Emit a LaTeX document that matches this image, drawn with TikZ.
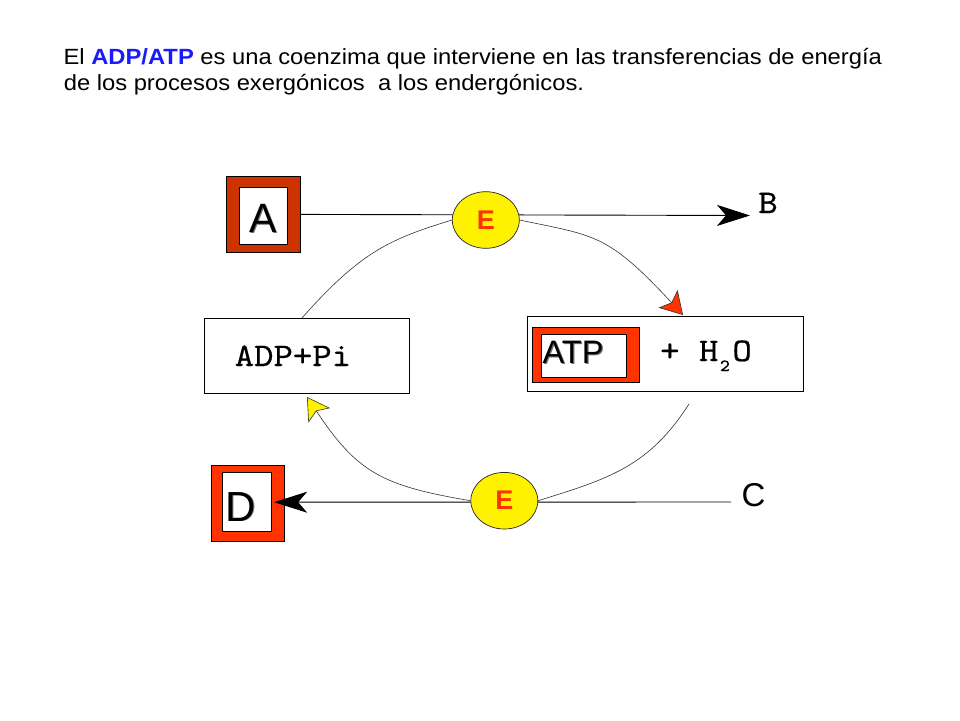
\documentclass[tikz,border=0pt]{standalone}
\usepackage{fontspec}
\setmainfont{Liberation Sans}
\newfontfamily\ttlfont[FakeStretch=1.08]{Liberation Sans}
\newfontfamily\cour[FakeStretch=1.12,FakeBold=0.6]{lmmono10-regular.otf}
\usetikzlibrary{arrows.meta,shapes.geometric}
\definecolor{brick}{HTML}{CC3300}
\definecolor{vermil}{HTML}{FF3300}
\definecolor{ttlblue}{HTML}{1A1AFF}
\newcommand{\shadowtxt}[2]{\makebox[0pt][l]{\kern#1\raisebox{-#1}{\textcolor{black!55}{#2}}}#2}
\begin{document}
\begin{tikzpicture}[x=1pt,y=-1pt,
  box/.style={draw=black, line width=0.9pt, inner sep=0pt, rectangle},
  enz/.style={ellipse, draw=black!85, line width=0.7pt, fill=yellow,
    minimum width=67pt, minimum height=56.6pt, inner sep=0pt,
    font=\fontsize{27}{27}\selectfont\bfseries, text=vermil},
  arc/.style={draw=black!80, line width=0.6pt},
  flow/.style={draw=black, line width=0.9pt,
    -{Stealth[length=33pt,width=21pt,inset=9pt]}},
  letter/.style={inner sep=0pt, anchor=base, font=\fontsize{41}{41}\selectfont},
  ttl/.style={inner sep=0pt, anchor=base west, font=\ttlfont\fontsize{22}{26}\selectfont},
  tt/.style={inner sep=0pt, font=\cour\fontsize{33}{33}\selectfont}
]
\useasboundingbox[fill=white] (0,0) rectangle (960,720);

% title
\node[ttl] (t1) at (63.4,64) {El \textcolor{ttlblue}{\bfseries ADP/ATP} es una coenzima que interviene en las transferencias de energía};
\node[ttl] (t2) at (63.6,90) {de los procesos exergónicos\ \ a los endergónicos.};

% A box
\node[box, fill=brick, minimum width=74pt, minimum height=76.7pt] (A) at (263,214.4) {};
\node[box, fill=white, minimum width=48.7pt, minimum height=56.7pt] (Ain) at (263.4,215.7) {};
\node[letter] (Al) at (263,232.7) {\shadowtxt{0.8pt}{A}};

% D box
\node[box, fill=vermil, minimum width=72.3pt, minimum height=76pt] (D) at (247.85,503) {};
\node[box, fill=white, minimum width=49pt, minimum height=59pt] (Din) at (247.2,502.2) {};
\node[letter, font=\fontsize{42}{42}\selectfont] (Dl) at (241,521) {\shadowtxt{0.8pt}{D}};

% ADP box
\node[box, fill=white, minimum width=205pt, minimum height=75pt] (ADP) at (306.5,355.5) {};
\node[tt, anchor=base west] (ADPl) at (234.5,366) {ADP+Pi};

% ATP box
\node[box, fill=white, minimum width=276pt, minimum height=75pt] (ATP) at (665,353.5) {};
\node[box, fill=vermil, minimum width=107pt, minimum height=55pt] (ATPr) at (585.5,354.5) {};
\node[box, fill=white, minimum width=85.7pt, minimum height=43pt] (ATPin) at (583.85,355.5) {};
\node[inner sep=0pt, anchor=base west, font=\fontsize{32.5}{32.5}\selectfont] (ATPl) at (542.5,363) {\shadowtxt{1.2pt}{ATP}};
\node[tt, anchor=base west] (H2O) at (660,361) {+ H\kern1.5pt\raisebox{-10pt}{\cour\fontsize{17}{17}\selectfont 2}\kern2.5pt O};

% B and C
\node[tt, anchor=base] (B) at (768,213) {B};
\node[inner sep=0pt, anchor=base, font=\fontsize{33}{33}\selectfont] (C) at (753.5,506.5) {C};

\coordinate (Bend) at (750,215.5);
\coordinate (Cend) at (731,502);
\coordinate (adptop) at (302,318);
\coordinate (atpbot) at (689,404);
\coordinate (redtip) at (683,315);
\coordinate (yeltip) at (307,397);

% straight flows
\draw[flow] (A.east) -- (Bend);
\draw[flow] (Cend) -- ([xshift=2pt]Din.east);

% enzymes
\node[enz] (Et) at (485.8,220) {E};
\node[enz] (Eb) at (504.3,500.7) {E};

% cycle arcs
\draw[arc] (adptop) .. controls (362,250) and (392,238.6) .. (Et.west);
\draw[arc, -{Stealth[length=22pt,width=26pt,inset=5pt,fill=vermil]}]
  (Et.east) .. controls (595,236) and (607,233) .. (redtip);
\draw[arc] (atpbot) .. controls (648.5,467) and (608.7,478.7) .. (Eb.east);
\draw[arc, -{Stealth[length=22pt,width=26pt,inset=5pt,fill=yellow]}]
  (Eb.west) .. controls (381.3,485.7) and (357,472) .. (yeltip);
\end{tikzpicture}
\end{document}
